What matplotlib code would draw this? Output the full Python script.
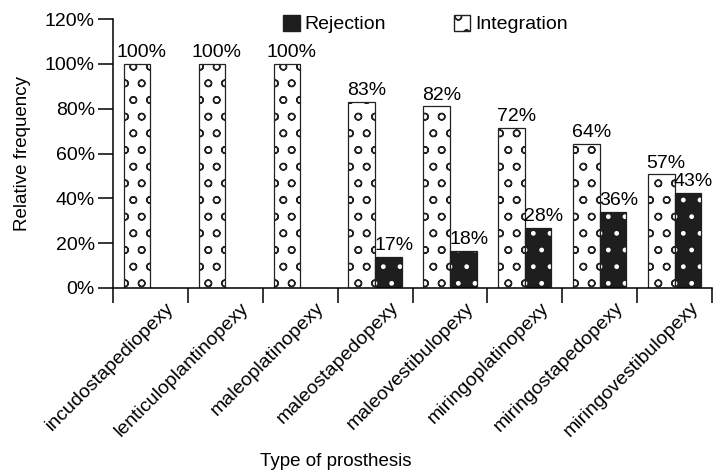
import numpy as np
import matplotlib
matplotlib.use('Agg')
import matplotlib.pyplot as plt
from matplotlib.patches import Patch
from matplotlib.transforms import ScaledTranslation

plt.rcParams['font.family'] = ['Liberation Sans', 'DejaVu Sans']
plt.rcParams['hatch.linewidth'] = 1.0

# data
categories = ['incudostapediopexy', 'lenticuloplantinopexy', 'maleoplatinopexy',
              'maleostapedopexy', 'maleovestibulopexy', 'miringoplatinopexy',
              'miringostapedopexy', 'miringovestibulopexy']
integration = [100, 100, 100, 83, 81, 71.5, 64.4, 50.7]
rejection = [0, 0, 0, 14, 16.6, 26.8, 34, 42.5]
integration_labels = ['100%', '100%', '100%', '83%', '82%', '72%', '64%', '57%']
rejection_labels = ['', '', '', '17%', '18%', '28%', '36%', '43%']
y_ticks = [0, 20, 40, 60, 80, 100, 120]

fig = plt.figure(figsize=(7.24, 4.76), dpi=100)
ax = fig.add_axes([113 / 724, 1 - 288 / 476, (712 - 113) / 724, (288 - 19) / 476])

x = np.arange(len(categories))
w = 0.356

# integration bars: white with small circles
ax.bar(x - w / 2, integration, w, facecolor='white', edgecolor='#222222',
       hatch='o', linewidth=0.9, zorder=2)

# rejection bars: black with white dots, then a black outline
ax.bar(x + w / 2, rejection, w, facecolor='#1e1e1e', edgecolor='white',
       hatch='.', linewidth=0, zorder=2)
ax.bar(x + w / 2, rejection, w, fill=False, edgecolor='#1e1e1e',
       linewidth=0.9, zorder=3)

for xi, h, lab in zip(x, integration, integration_labels):
    ax.annotate(lab, xy=(xi - w / 2, h), xytext=(3.5, 2), textcoords='offset points',
                ha='center', va='bottom', fontsize=14)
for xi, h, lab in zip(x, rejection, rejection_labels):
    if lab:
        ax.annotate(lab, xy=(xi + w / 2, h), xytext=(4, 2), textcoords='offset points',
                    ha='center', va='bottom', fontsize=14)

ax.set_xlim(-0.5, len(categories) - 0.5)
ax.set_ylim(0, 120)
ax.set_yticks(y_ticks)
ax.set_yticklabels([f'{t}%' for t in y_ticks], fontsize=14)
ax.tick_params(axis='y', length=11, width=1.1, pad=2)

# ticks at category boundaries, labels at category centres
ax.set_xticks(np.arange(len(categories) + 1) - 0.5)
ax.set_xticklabels([])
ax.tick_params(axis='x', which='major', length=11, width=1.1)
ax.set_xticks(x, minor=True)
ax.set_xticklabels(categories, minor=True, rotation=45, ha='right', va='top',
                   rotation_mode='anchor', fontsize=14)
ax.tick_params(axis='x', which='minor', length=0, pad=8)
offset = ScaledTranslation(0.15, 0, fig.dpi_scale_trans)
for lab in ax.get_xticklabels(minor=True):
    lab.set_transform(lab.get_transform() + offset)

for side in ['top', 'right']:
    ax.spines[side].set_visible(False)
for side in ['left', 'bottom']:
    ax.spines[side].set_linewidth(1.1)

ax.set_ylabel('Relative frequency', fontsize=13.5, labelpad=10)
fig.text(336 / 724, 1 - 462 / 476, 'Type of prosthesis', ha='center', va='center', fontsize=13.5)

handles = [Patch(facecolor='#1e1e1e', edgecolor='#1e1e1e', label='Rejection'),
           Patch(facecolor='white', edgecolor='#222222', hatch='o', label='Integration')]
ax.legend(handles=handles, loc='upper left', bbox_to_anchor=(283 / 724, 1 - 15 / 476),
          bbox_transform=fig.transFigure, ncol=2, frameon=False, fontsize=14,
          borderaxespad=0, borderpad=0, columnspacing=3.5, handlelength=0.85,
          handleheight=0.85, handletextpad=0.25)

fig.savefig('out.png', dpi=100)
